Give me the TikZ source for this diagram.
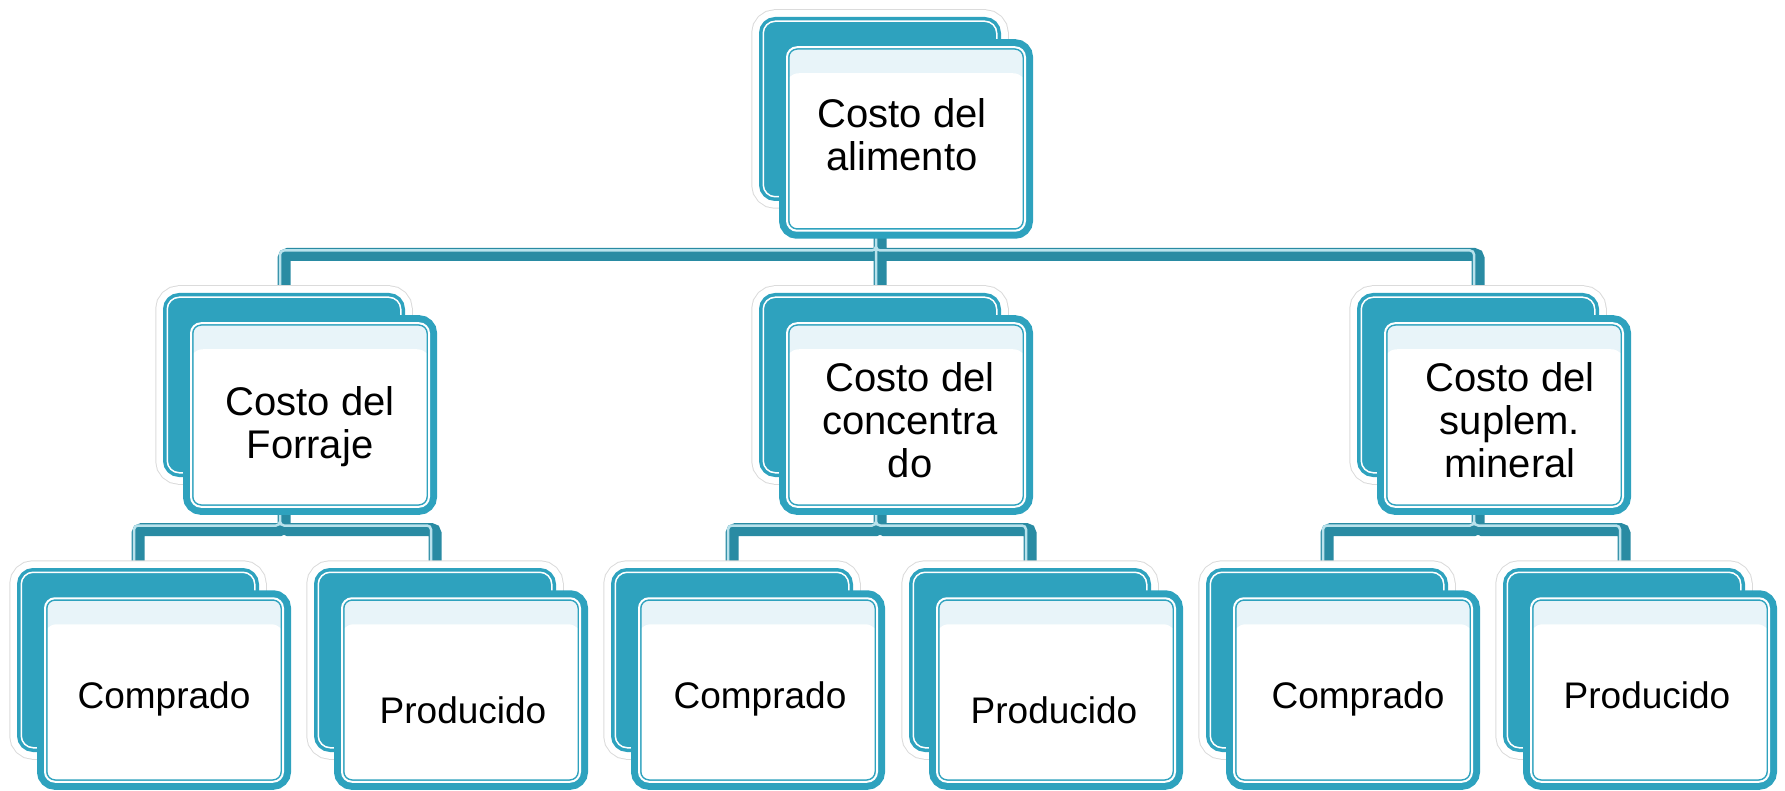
\documentclass[tikz,border=0pt]{standalone}
\usepackage{fontspec}
\setmainfont{Liberation Sans}
\pgfdeclarelayer{background}
\pgfsetlayers{background,main}
\definecolor{cardteal}{RGB}{46,162,190}
\definecolor{conndark}{RGB}{41,139,163}
\definecolor{connlight}{RGB}{185,226,236}
\definecolor{bandblue}{RGB}{232,244,249}

\begin{document}
\begin{tikzpicture}[x=1pt, y=-1pt]
    \tikzstyle{backcard} = [rectangle, rounded corners=12pt, inner sep=0pt,
	minimum width=233.5pt, minimum height=175.5pt, fill=cardteal,
	draw=cardteal, double=white, line width=3.5pt, double distance=1.5pt,
	preaction={draw=black!14, line width=24pt},
	preaction={draw=white, line width=22pt}]
    \tikzstyle{frontcard} = [rectangle, rounded corners=10pt, inner sep=0pt,
	minimum width=238pt, minimum height=183.5pt, fill=bandblue,
	draw=cardteal, double=white, line width=1.5pt, double distance=2pt,
	preaction={draw=cardteal, line width=16pt},
	path picture={\fill[white, rounded corners=14pt]
		([shift={(-2,26)}]path picture bounding box.north west) rectangle
		([shift={(2,1)}]path picture bounding box.south east);}]
    \tikzstyle{costtext} = [inner sep=0pt, align=center,
	font=\fontsize{40}{43}\selectfont]
    \tikzstyle{leaftext} = [inner sep=0pt, font=\fontsize{37}{40}\selectfont]
    \tikzstyle{conn} = [draw=conndark, line width=13pt, rounded corners=4pt,
	postaction={draw=connlight, line width=2.5pt,
		transform canvas={xshift=-4pt, yshift=4pt}}]

	\useasboundingbox (0,0) rectangle (1785,791);

	% top
	\node[backcard] (top-b) at (880,109) {};
	\node[frontcard] (top-f) at ([shift={(26,30)}]top-b.center) {};
	\node[costtext] (top) at ([shift={(-4,-4)}]top-f.center) {Costo del\\alimento};

	% second row
	\node[backcard] (forraje-b) at (284,385) {};
	\node[frontcard] (forraje-f) at ([shift={(26,30)}]forraje-b.center) {};
	\node[costtext] (forraje) at ([shift={(0,12)}]forraje-f.center) {Costo del\\Forraje};

	\node[backcard] (concentrado-b) at (880,385) {};
	\node[frontcard] (concentrado-f) at ([shift={(26,30)}]concentrado-b.center) {};
	\node[costtext] (concentrado) at ([shift={(4,5)}]concentrado-f.center) {Costo del\\concentra\\do};

	\node[backcard] (mineral-b) at (1478,385) {};
	\node[frontcard] (mineral-f) at ([shift={(26,30)}]mineral-b.center) {};
	\node[costtext] (mineral) at ([shift={(6,5)}]mineral-f.center) {Costo del\\suplem.\\mineral};

	% third row
	\node[backcard] (forraje-cb) at (138,660) {};
	\node[frontcard] (forraje-cf) at ([shift={(26,30)}]forraje-cb.center) {};
	\node[leaftext] (forraje-c) at ([shift={(0,9)}]forraje-cf.center) {Comprado};

	\node[backcard] (forraje-pb) at (435,660) {};
	\node[frontcard] (forraje-pf) at ([shift={(26,30)}]forraje-pb.center) {};
	\node[leaftext] (forraje-p) at ([shift={(2,20)}]forraje-pf.center) {Producido};

	\node[backcard] (concentrado-cb) at (732,660) {};
	\node[frontcard] (concentrado-cf) at ([shift={(26,30)}]concentrado-cb.center) {};
	\node[leaftext] (concentrado-c) at ([shift={(2,9)}]concentrado-cf.center) {Comprado};

	\node[backcard] (concentrado-pb) at (1030,660) {};
	\node[frontcard] (concentrado-pf) at ([shift={(26,30)}]concentrado-pb.center) {};
	\node[leaftext] (concentrado-p) at ([shift={(-2,20)}]concentrado-pf.center) {Producido};

	\node[backcard] (mineral-cb) at (1327,660) {};
	\node[frontcard] (mineral-cf) at ([shift={(26,30)}]mineral-cb.center) {};
	\node[leaftext] (mineral-c) at ([shift={(5,9)}]mineral-cf.center) {Comprado};

	\node[backcard] (mineral-pb) at (1624,660) {};
	\node[frontcard] (mineral-pf) at ([shift={(26,30)}]mineral-pb.center) {};
	\node[leaftext] (mineral-p) at ([shift={(-3,5)}]mineral-pf.center) {Producido};

	% connectors behind the cards
	\begin{pgfonlayer}{background}
		\path[conn]
			(top-b.center |- top-f.south) -- ++(0,23) -| (forraje-b.north)
			(top-b.center |- top-f.south) -- ++(0,23) -| (mineral-b.north)
			(top-b.center |- top-f.south) -- (concentrado-b.north)

			(forraje-b.center |- forraje-f.south) -- ++(0,22) -| (forraje-cb.north)
			(forraje-b.center |- forraje-f.south) -- ++(0,22) -| (forraje-pb.north)
			(concentrado-b.center |- concentrado-f.south) -- ++(0,22) -| (concentrado-cb.north)
			(concentrado-b.center |- concentrado-f.south) -- ++(0,22) -| (concentrado-pb.north)
			(mineral-b.center |- mineral-f.south) -- ++(0,22) -| (mineral-cb.north)
			(mineral-b.center |- mineral-f.south) -- ++(0,22) -| (mineral-pb.north)
		;
	\end{pgfonlayer}
\end{tikzpicture}
\end{document}
